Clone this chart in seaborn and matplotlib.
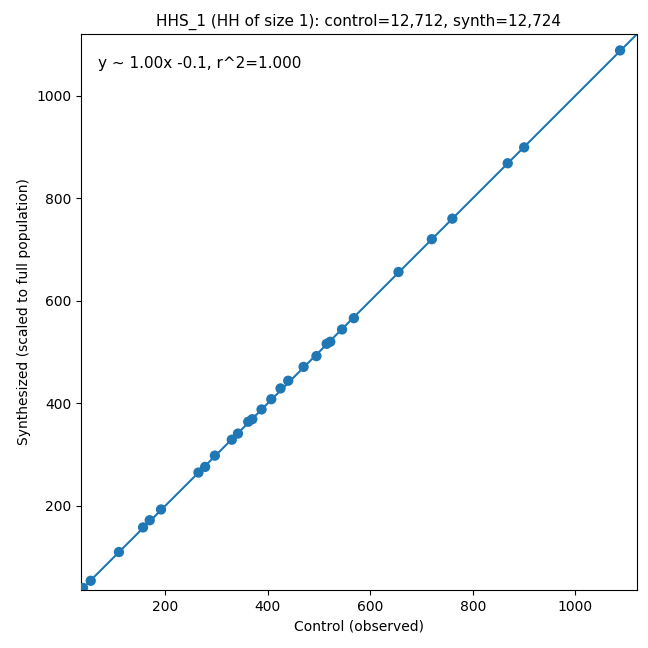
import matplotlib
matplotlib.use("Agg")
import matplotlib.pyplot as plt
import seaborn as sns
import numpy as np
import pandas as pd

control = [40, 55, 110, 157, 170, 192, 265, 278, 297, 330, 342, 362, 370, 388, 407,
           425, 440, 470, 495, 515, 522, 545, 568, 655, 720, 760, 868, 900, 1087]
synth = [40, 54, 110, 158, 172, 193, 265, 276, 298, 329, 341, 364, 369, 388, 408,
         429, 444, 471, 492, 516, 520, 544, 566, 656, 720, 760, 868, 899, 1088]
df = pd.DataFrame({"control": control, "synth": synth})

fig, ax = plt.subplots(figsize=(6.48, 6.48), dpi=100)
lo, hi = 36, 1120
slope, intercept = 1.0, -0.1
xs = np.array([lo, hi])
ax.plot(xs, slope * xs + intercept, color="#1f77b4", lw=1.5)
sns.scatterplot(data=df, x="control", y="synth", ax=ax, color="#1f77b4", s=55,
                edgecolor="none", zorder=3)
ax.set_xlim(lo, hi)
ax.set_ylim(lo, hi)
ax.set_aspect("equal")
ax.set_xlabel("Control (observed)")
ax.set_ylabel("Synthesized (scaled to full population)")
ax.set_title("HHS_1 (HH of size 1): control=12,712, synth=12,724", fontsize=11)
ax.text(0.03, 0.96, "y ~ 1.00x -0.1, r^2=1.000", transform=ax.transAxes,
        ha="left", va="top", fontsize=11)
fig.subplots_adjust(left=0.125, right=0.983, bottom=0.086, top=0.951)
fig.savefig("out.png", dpi=100)
